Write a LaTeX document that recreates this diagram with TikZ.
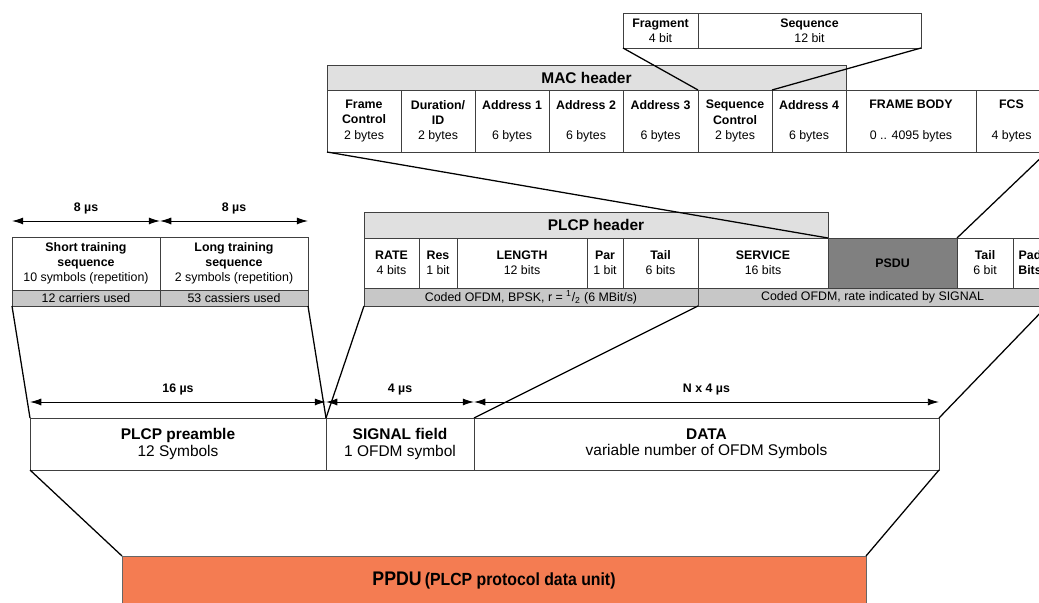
\documentclass[tikz,border=0pt]{standalone}
\usepackage{fontspec}
\setmainfont{Liberation Sans}
\newfontfamily\ppdufont[FakeStretch=0.9]{Liberation Sans}
\usetikzlibrary{arrows.meta}

\definecolor{ppduorange}{RGB}{244,124,82}
\newcommand\pxu{0.025cm}

\tikzset{
  fld/.style 2 args={draw=black!75, line width=0.6pt, fill=white, anchor=north west,
    inner sep=0pt, outer sep=0pt, align=center,
    minimum width=#1*\pxu, minimum height=#2*\pxu,
    font=\fontsize{8.8}{10.7}\selectfont},
  hdr/.style={fill=black!12, font=\fontsize{11}{13}\selectfont\bfseries},
  coded/.style={fill=black!22},
  big/.style={font=\fontsize{11}{11.5}\selectfont},
  link/.style={line width=0.9pt},
  dim/.style={line width=0.7pt, {Latex[length=8pt,width=5pt]}-{Latex[length=8pt,width=5pt]}},
  dimlabel/.style={above=1pt, font=\fontsize{8.8}{10}\selectfont\bfseries},
}

\begin{document}
\begin{tikzpicture}[x=\pxu, y=-\pxu]
    \useasboundingbox (0,0) rectangle (1039,603);
    \clip (0,0) rectangle (1039,603);

    % 1. Sequence control split
    \node[fld={75}{35}] (frag) at (623,13) {\textbf{Fragment}\\4 bit};
    \node[fld={223}{35}] (seqno) at (frag.north east) {\textbf{Sequence}\\12 bit};

    % 2. MAC frame
    \node[fld={519}{25}, hdr] (machdr) at (327,65) {MAC header};
    \node[fld={74}{62}] (fctrl) at (machdr.south west) {\textbf{Frame}\\\textbf{Control}\\2 bytes};
    \node[fld={74}{62}] (durid) at (fctrl.north east) {\textbf{Duration/}\\\textbf{ID}\\2 bytes};
    \node[fld={74}{62}] (addra) at (durid.north east) {\textbf{Address 1}\\~\\6 bytes};
    \node[fld={74}{62}] (addrb) at (addra.north east) {\textbf{Address 2}\\~\\6 bytes};
    \node[fld={75}{62}] (addrc) at (addrb.north east) {\textbf{Address 3}\\~\\6 bytes};
    \node[fld={74}{62}] (seqctl) at (addrc.north east) {\textbf{Sequence}\\\textbf{Control}\\2 bytes};
    \node[fld={74}{62}] (addrd) at (seqctl.north east) {\textbf{Address 4}\\~\\6 bytes};
    \node[fld={130}{62}] (fbody) at (addrd.north east) {\textbf{FRAME BODY}\\~\\0 .. 4095 bytes};
    \node[fld={71}{62}] (fcs) at (fbody.north east) {\textbf{FCS}\\~\\4 bytes};

    % 3. PLCP header and PSDU
    \node[fld={464}{26}, hdr] (plcphdr) at (364,212) {PLCP header};
    \node[fld={55}{50}] (rate) at (plcphdr.south west) {\textbf{RATE}\\4 bits};
    \node[fld={38}{50}] (res) at (rate.north east) {\textbf{Res}\\1 bit};
    \node[fld={130}{50}] (length) at (res.north east) {\textbf{LENGTH}\\12 bits};
    \node[fld={36}{50}] (par) at (length.north east) {\textbf{Par}\\1 bit};
    \node[fld={75}{50}] (tail) at (par.north east) {\textbf{Tail}\\6 bits};
    \node[fld={130}{50}] (service) at (tail.north east) {\textbf{SERVICE}\\16 bits};
    \node[fld={129}{50}, fill=black!50] (psdu) at (service.north east) {\textbf{PSDU}};
    \node[fld={56}{50}] (tailb) at (psdu.north east) {\textbf{Tail}\\6 bit};
    \node[fld={34}{50}] (pad) at (tailb.north east) {\textbf{Pad}\\\textbf{Bits}};
    \node[fld={334}{18}, coded] (codedhdr) at (rate.south west)
        {Coded OFDM, BPSK, r = \textsuperscript{1}/\textsubscript{2} (6 MBit/s)};
    \node[fld={349}{18}, coded] (codeddata) at (codedhdr.north east)
        {Coded OFDM, rate indicated by SIGNAL};

    % 4. Training sequences
    \node[fld={148}{53}] (shorttr) at (12,237) {\textbf{Short training}\\\textbf{sequence}\\10 symbols (repetition)};
    \node[fld={148}{53}] (longtr) at (shorttr.north east) {\textbf{Long training}\\\textbf{sequence}\\2 symbols (repetition)};
    \node[fld={148}{16}, coded] (shortcar) at (shorttr.south west) {12 carriers used};
    \node[fld={148}{16}, coded] (longcar) at (longtr.south west) {53 cassiers used};

    % 5. PPDU parts
    \node[fld={296}{52}, big] (preamble) at (30,418) {\textbf{PLCP preamble}\\12 Symbols};
    \node[fld={148}{52}, big] (signal) at (preamble.north east) {\textbf{SIGNAL field}\\1 OFDM symbol};
    \node[fld={465}{52}, big] (data) at (signal.north east) {\textbf{DATA}\\variable number of OFDM Symbols};
    \node[fld={744}{50}, fill=ppduorange, draw=black!60] (ppdu) at (122,556)
        {\ppdufont\bfseries{\fontsize{14}{16}\selectfont PPDU} {\fontsize{12.5}{14}\selectfont (PLCP protocol data unit)}};

    % 6. Durations
    \draw[dim] ([yshift=0.4cm]shorttr.north west) -- node[dimlabel] {8 µs} ([yshift=0.4cm]shorttr.north east);
    \draw[dim] ([yshift=0.4cm]longtr.north west) -- node[dimlabel] {8 µs} ([yshift=0.4cm]longtr.north east);
    \draw[dim] ([yshift=0.4cm]preamble.north west) -- node[dimlabel] {16 µs} ([yshift=0.4cm]preamble.north east);
    \draw[dim] ([yshift=0.4cm]signal.north west) -- node[dimlabel] {4 µs} ([yshift=0.4cm]signal.north east);
    \draw[dim] ([yshift=0.4cm]data.north west) -- node[dimlabel] {N x 4 µs} ([yshift=0.4cm]data.north east);

    % 7. Expansion lines
    \draw[link] (frag.south west) -- (seqctl.north west);
    \draw[link] (seqno.south east) -- (seqctl.north east);
    \draw[link] (fctrl.south west) -- (psdu.north west);
    \draw[link] (fcs.south east) -- (psdu.north east);
    \draw[link] (shortcar.south west) -- (preamble.north west);
    \draw[link] (longcar.south east) -- (preamble.north east);
    \draw[link] (codedhdr.south west) -- (signal.north west);
    \draw[link] (codedhdr.south east) -- (signal.north east);
    \draw[link] (codeddata.south east) -- (data.north east);
    \draw[link] (preamble.south west) -- (ppdu.north west);
    \draw[link] (data.south east) -- (ppdu.north east);
\end{tikzpicture}
\end{document}
